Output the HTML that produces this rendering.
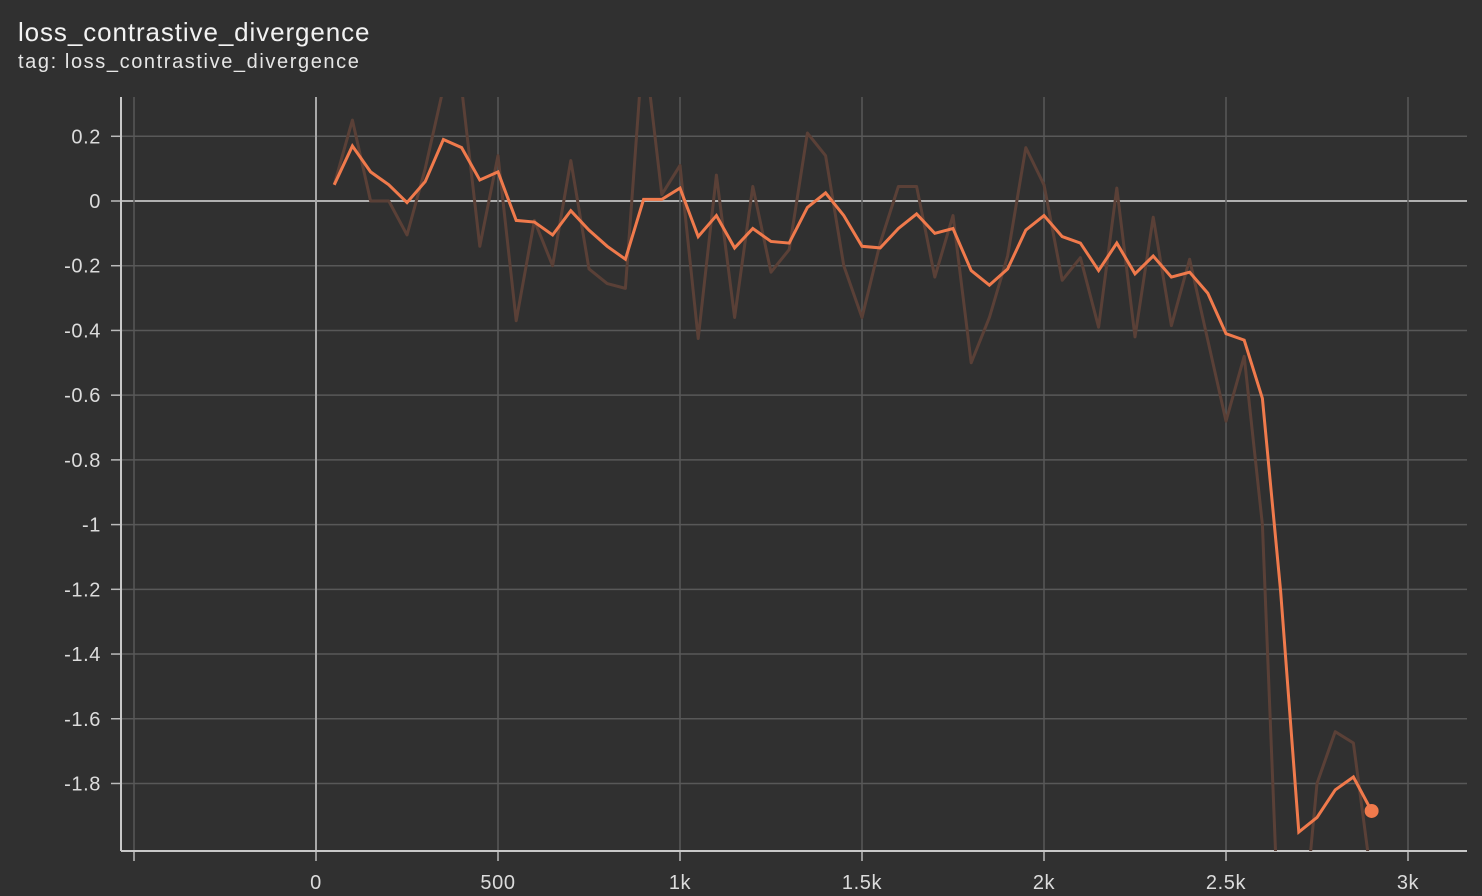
<!DOCTYPE html>
<html><head><meta charset="utf-8">
<style>
html,body{margin:0;padding:0;background:#303030;width:1482px;height:896px;overflow:hidden;}
body{position:relative;font-family:"Liberation Sans",sans-serif;color:#eee;}
.t1{position:absolute;left:18px;top:17px;font-size:26px;letter-spacing:0.9px;color:#f2f2f2;white-space:nowrap;}
.t2{position:absolute;left:18px;top:51px;font-size:20px;letter-spacing:1.6px;color:#e6e6e6;white-space:nowrap;}
svg{position:absolute;left:0;top:0;display:block;overflow:hidden;}
</style></head>
<body>
<div class="t1">loss_contrastive_divergence</div>
<div class="t2">tag: loss_contrastive_divergence</div>
<svg id="chart" width="1482" height="896"></svg>
<script>
const steps = [50,100,150,200,250,300,350,400,450,500,550,600,650,700,750,800,850,900,950,1000,1050,1100,1150,1200,1250,1300,1350,1400,1450,1500,1550,1600,1650,1700,1750,1800,1850,1900,1950,2000,2050,2100,2150,2200,2250,2300,2350,2400,2450,2500,2550,2600,2650,2700,2750,2800,2850,2900];
const smoothed = [0.05,0.17,0.09,0.05,-0.005,0.06,0.19,0.165,0.065,0.09,-0.06,-0.065,-0.105,-0.03,-0.09,-0.14,-0.18,0.005,0.005,0.04,-0.11,-0.045,-0.145,-0.085,-0.125,-0.13,-0.02,0.025,-0.045,-0.14,-0.145,-0.085,-0.04,-0.1,-0.085,-0.215,-0.26,-0.21,-0.09,-0.045,-0.11,-0.13,-0.215,-0.13,-0.225,-0.17,-0.235,-0.22,-0.285,-0.41,-0.43,-0.61,-1.205,-1.95,-1.905,-1.82,-1.78,-1.885];
const raw = [0.05,0.25,0.0,0.0,-0.105,0.1,0.35,0.35,-0.14,0.14,-0.37,-0.06,-0.2,0.125,-0.21,-0.255,-0.27,0.5,0.02,0.11,-0.425,0.08,-0.36,0.045,-0.22,-0.15,0.21,0.14,-0.2,-0.36,-0.13,0.045,0.045,-0.235,-0.045,-0.5,-0.36,-0.17,0.165,0.05,-0.245,-0.175,-0.39,0.04,-0.42,-0.05,-0.385,-0.18,-0.43,-0.68,-0.48,-1.0,-2.4,-2.4,-1.8,-1.64,-1.675,-2.1];
const xTicks = [-500,0,500,1000,1500,2000,2500,3000];
const xTickLabels = ["","0","500","1k","1.5k","2k","2.5k","3k"];
const yTicks = [0.2,0,-0.2,-0.4,-0.6,-0.8,-1,-1.2,-1.4,-1.6,-1.8];
const yTickLabels = ["0.2","0","-0.2","-0.4","-0.6","-0.8","-1","-1.2","-1.4","-1.6","-1.8"];

const NS="http://www.w3.org/2000/svg";
const svg=document.getElementById('chart');
const L=121,R=1467,T=97,B=851;
const xs=v=>316+v*0.364;
const ys=v=>201-v*323.6;
function mk(tag,attrs,parent){const e=document.createElementNS(NS,tag);for(const k in attrs)e.setAttribute(k,attrs[k]);(parent||svg).appendChild(e);return e;}

const defs=mk('defs',{});
const cp=mk('clipPath',{id:'clip'},defs);
mk('rect',{x:L,y:T,width:R-L,height:B-T},cp);

yTicks.forEach((v,i)=>{
  const g=mk('line',{x1:L,x2:R,y1:ys(v),y2:ys(v),stroke:v===0?'#b0b0b0':'#585858','stroke-width':v===0?2:1.5});
  
  
  const tk=mk('line',{x1:L-10,x2:L,y1:ys(v),y2:ys(v),stroke:'#bbb','stroke-width':1.5});
  
  
  const t=mk('text',{x:101,y:ys(v)+7,'text-anchor':'end','font-size':20,'letter-spacing':0.6,fill:'#dcdcdc','font-family':'Liberation Sans, sans-serif'});
  t.textContent=yTickLabels[i];
  
  
});
xTicks.forEach((v,i)=>{
  const g=mk('line',{x1:xs(v),x2:xs(v),y1:T,y2:B,stroke:v===0?'#a8a8a8':'#585858','stroke-width':v===0?2:1.5});
  
  
  const tk=mk('line',{x1:xs(v),x2:xs(v),y1:B,y2:B+10,stroke:'#bbb','stroke-width':1.5});
  
  
  const t=mk('text',{x:xs(v),y:889,'text-anchor':'middle','font-size':20,'letter-spacing':0.6,fill:'#dcdcdc','font-family':'Liberation Sans, sans-serif'});
  t.textContent=xTickLabels[i];
  
  
});
const ya=mk('line',{x1:L,x2:L,y1:T,y2:B,stroke:'#c8c8c8','stroke-width':2});


const xa=mk('line',{x1:L,x2:R,y1:B,y2:B,stroke:'#c8c8c8','stroke-width':2});



const rp=mk('polyline',{points:steps.map((s,i)=>xs(s)+','+ys(raw[i])).join(' '),fill:'none',stroke:'#5a4037','stroke-width':3,'stroke-linejoin':'round','clip-path':'url(#clip)'});


const sp=mk('polyline',{points:steps.map((s,i)=>xs(s)+','+ys(smoothed[i])).join(' '),fill:'none',stroke:'#f07a4c','stroke-width':3,'stroke-linejoin':'miter','clip-path':'url(#clip)'});


const n=steps.length-1;
const dot=mk('circle',{cx:xs(steps[n]),cy:ys(smoothed[n]),r:7,fill:'#f07a4c'});


</script>
</body></html>
